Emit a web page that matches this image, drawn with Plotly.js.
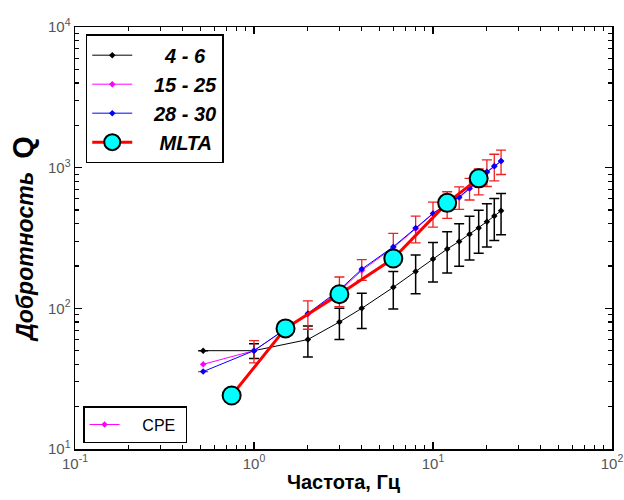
<!DOCTYPE html>
<html>
<head>
<meta charset="utf-8">
<script src="https://cdn.plot.ly/plotly-3.0.1.min.js"></script>
<style>html,body{margin:0;padding:0;background:#fff;}#chart{width:624px;height:500px;}</style>
</head>
<body>
<div id="chart"></div>
<script>
// Data
const freq = [0.52, 1, 2, 3, 4, 6, 8, 10, 12, 14, 16, 18, 20, 22, 24];
const q46 = [50, 50, 60, 80, 100, 141, 183, 224, 264, 299, 336, 372, 413, 453, 494];
const q46err = [null, 6, 15, 20, 28, 42, 56, 70, 86, 100, 115, 126, 140, 150, 160];
const q1525 = [40, 50, 91, 132, 186, 270, 368, 470, 552, 612, 708, 800, 925, 1020, 1110];
const q2830 = [35.5, 50, 92, 135, 190, 274, 372, 473, 555, 618, 714, 810, 935, 1026, 1114];
const q2830err = [null, 9, 21, 32, 32, 67, 80, 95, 119, 113, 125, 170, 200, 220, 220];
const mltaFreq = [0.75, 1.5, 3, 6, 12, 18];
const mltaQ = [24, 72, 126, 226, 562, 840];
const names = ['4 - 6', '15 - 25', '28 - 30', 'MLTA', 'CPE'];
const xTickVals = [0.1, 1, 10, 100];
const xTickText = ['10<sup>-1</sup>', '10<sup>0</sup>', '10<sup>1</sup>', '10<sup>2</sup>'];
const yTickVals = [10, 100, 1000, 10000];
const yTickText = ['10<sup>1</sup>', '10<sup>2</sup>', '10<sup>3</sup>', '10<sup>4</sup>'];
const xTitle = 'Частота, Гц';
const yTitleWord = 'Добротность';
const yTitleSym = 'Q';

const pad = n => '\u00a0'.repeat(n);

const traces = [
  {
    x: freq, y: q46, name: pad(5) + names[0], mode: 'lines+markers', type: 'scatter',
    line: {color: '#000000', width: 1},
    marker: {symbol: 'diamond', size: 5, color: '#000000'},
    error_y: {type: 'data', array: q46err, visible: true, color: '#000000', thickness: 1.5, width: 5},
    legend: 'legend'
  },
  {
    x: freq, y: q1525, name: pad(3) + names[1], mode: 'lines+markers', type: 'scatter',
    line: {color: '#ff00ff', width: 1},
    marker: {symbol: 'diamond', size: 5, color: '#ff00ff'},
    legend: 'legend'
  },
  {
    x: freq, y: q2830, name: pad(3) + names[2], mode: 'lines+markers', type: 'scatter',
    line: {color: '#0000ff', width: 1},
    marker: {symbol: 'diamond', size: 5, color: '#0000ff'},
    error_y: {type: 'data', array: q2830err, visible: true, color: '#ee2222', thickness: 1.3, width: 5},
    legend: 'legend'
  },
  {
    x: mltaFreq, y: mltaQ, name: pad(4) + names[3], mode: 'lines+markers', type: 'scatter',
    line: {color: '#ff0000', width: 3},
    marker: {symbol: 'circle', size: 18, color: '#00ffff', line: {color: '#000000', width: 2}},
    legend: 'legend'
  },
  {
    x: [null], y: [null], name: pad(4) + names[4] + pad(1), mode: 'lines+markers', type: 'scatter',
    line: {color: '#ff00ff', width: 1},
    marker: {symbol: 'diamond', size: 5, color: '#ff00ff'},
    legend: 'legend2'
  }
];

const tickFont = {family: 'Liberation Sans, Arial, sans-serif', size: 15, color: '#555'};

const layout = {
  width: 624, height: 500,
  margin: {l: 75, r: 12, t: 27, b: 51},
  paper_bgcolor: '#ffffff', plot_bgcolor: '#ffffff',
  showlegend: true,
  xaxis: {
    type: 'log', range: [-1, 2], tickmode: 'array', tickvals: xTickVals, ticktext: xTickText,
    ticks: 'inside', ticklen: 7, tickwidth: 1.2, tickcolor: '#000',
    minor: {ticks: 'inside', ticklen: 4, dtick: 'D1', tickcolor: '#000', showgrid: false},
    showline: true, linecolor: '#000', linewidth: 1.5, mirror: 'ticks',
    showgrid: false, zeroline: false,
    tickfont: tickFont,
    title: {text: xTitle, font: {family: 'Liberation Sans, Arial, sans-serif', size: 20, color: '#000', weight: 'bold'}, standoff: 4}
  },
  yaxis: {
    type: 'log', range: [1, 4], tickmode: 'array', tickvals: yTickVals, ticktext: yTickText,
    ticks: 'inside', ticklen: 7, tickwidth: 1.2, tickcolor: '#000',
    minor: {ticks: 'inside', ticklen: 4, dtick: 'D1', tickcolor: '#000', showgrid: false},
    showline: true, linecolor: '#000', linewidth: 1.5, mirror: 'ticks',
    showgrid: false, zeroline: false,
    tickfont: tickFont,
    title: {
      text: '<i>' + yTitleWord + '</i>  <span style="font-size:29px">' + yTitleSym + '</span>',
      font: {family: 'Liberation Sans, Arial, sans-serif', size: 23, color: '#000', weight: 'bold'},
      standoff: 8
    }
  },
  legend: {
    x: 0.02, y: 0.983, xanchor: 'left', yanchor: 'top',
    bgcolor: '#ffffff', bordercolor: '#000', borderwidth: 1.5,
    font: {family: 'Liberation Sans, Arial, sans-serif', size: 20, color: '#000', weight: 'bold', style: 'italic'},
    itemwidth: 40, tracegroupgap: 0
  },
  legend2: {
    x: 0.015, y: 0.014, xanchor: 'left', yanchor: 'bottom',
    bgcolor: '#ffffff', bordercolor: '#000', borderwidth: 1.5,
    font: {family: 'Liberation Sans, Arial, sans-serif', size: 16, color: '#000'}
  }
};

Plotly.newPlot('chart', traces, layout, {displayModeBar: false, staticPlot: true});
</script>
</body>
</html>
